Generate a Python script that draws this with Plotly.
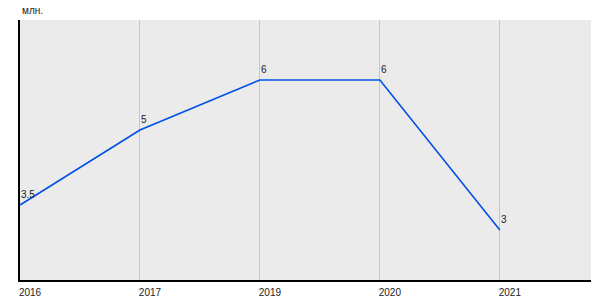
import plotly.graph_objects as go

years = ["2016", "2017", "2019", "2020", "2021"]
values = [3.5, 5, 6, 6, 3]
labels = ["3.5", "5", "6", "6", "3"]
unit_label = "млн."

fig = go.Figure()
fig.add_trace(go.Scatter(
    x=list(range(len(years))), y=values, mode="lines",
    line=dict(color="#0050e6", width=1.6),
    hoverinfo="skip",
))

annotations = [dict(
    text=unit_label, xref="paper", yref="paper", x=0, y=1,
    xanchor="left", yanchor="bottom", yshift=2, showarrow=False,
    font=dict(size=10, color="#222"),
)]
for i, (v, t) in enumerate(zip(values, labels)):
    annotations.append(dict(
        x=i, y=v, xref="x", yref="y", text=t, showarrow=False,
        xanchor="left", yanchor="bottom", xshift=-1, yshift=3,
        font=dict(size=10, color="#222"),
    ))

fig.update_layout(
    width=600, height=300,
    margin=dict(l=20, r=9, t=20, b=20),
    paper_bgcolor="white", plot_bgcolor="#ebebeb",
    showlegend=False,
    font=dict(family="Liberation Sans, Arial", size=10, color="#222"),
    xaxis=dict(
        range=[0, 4.76], tickmode="array",
        tickvals=list(range(len(years))), ticktext=years,
        showgrid=True, gridcolor="#c8c8c8", gridwidth=1,
        showline=True, linecolor="black", linewidth=2,
        zeroline=False, ticks="", ticklabelshift=10, ticklabelstandoff=2,
        tickfont=dict(size=10, color="#222"), automargin=False,
    ),
    yaxis=dict(
        range=[2, 7.2], showgrid=False, showticklabels=False,
        showline=True, linecolor="black", linewidth=2,
        zeroline=False, ticks="", automargin=False,
    ),
    annotations=annotations,
)

fig.write_html("out.html")
